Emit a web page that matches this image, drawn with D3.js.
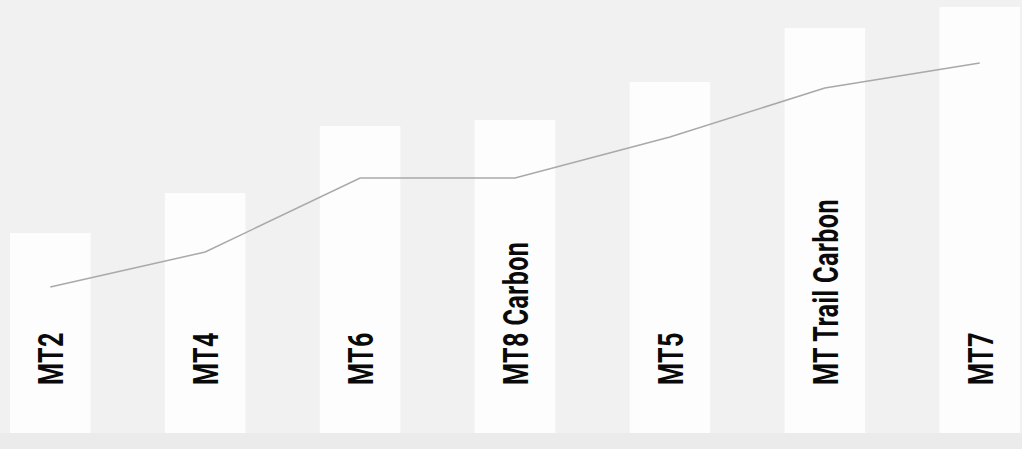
<!DOCTYPE html>
<html>
<head>
<meta charset="utf-8">
<script src="https://cdn.jsdelivr.net/npm/d3@7"></script>
<style>
  html, body { margin: 0; padding: 0; background: #f1f1f1; }
  svg { display: block; }
</style>
</head>
<body>
<div id="chart"></div>
<script>
// Models, in display order
const models = ["MT2", "MT4", "MT6", "MT8 Carbon", "MT5", "MT Trail Carbon", "MT7"];
// Bar heights (arbitrary units)
const barValues = [200, 240, 307, 313, 351, 405, 426];
// Line values on the same scale
const lineValues = [146, 181, 255, 255, 296, 345, 370];

const width = 1022, height = 449;
const margin = { top: 3, right: 2, bottom: 16, left: 10 };

const svg = d3.select("#chart").append("svg")
    .attr("width", width)
    .attr("height", height);

svg.append("rect")
    .attr("width", width)
    .attr("height", height)
    .attr("fill", "#f1f1f1");

// slightly darker strip under the bars
svg.append("rect")
    .attr("y", height - margin.bottom)
    .attr("width", width)
    .attr("height", margin.bottom)
    .attr("fill", "#ebebeb");

const x = d3.scaleBand()
    .domain(models)
    .range([margin.left, width - margin.right])
    .paddingInner(0.48)
    .paddingOuter(0);

const y = d3.scaleLinear()
    .domain([0, 430])
    .range([height - margin.bottom, margin.top]);

// bars
svg.append("g").selectAll("rect")
    .data(models)
    .join("rect")
    .attr("x", d => x(d))
    .attr("y", (d, i) => y(barValues[i]))
    .attr("width", x.bandwidth())
    .attr("height", (d, i) => y(0) - y(barValues[i]))
    .attr("fill", "#fdfdfd");

// line through bar centres
const line = d3.line()
    .x((d, i) => x(models[i]) + x.bandwidth() / 2)
    .y(d => y(d));

svg.append("path")
    .datum(lineValues)
    .attr("d", line)
    .attr("fill", "none")
    .attr("stroke", "#a9a9a9")
    .attr("stroke-width", 1.5);

// rotated labels, condensed look via horizontal squeeze
const labelBase = 385;
svg.append("g").selectAll("text")
    .data(models)
    .join("text")
    .attr("transform", d => `translate(${x(d) + x.bandwidth() / 2},${labelBase}) rotate(-90) scale(0.7,1)`)
    .attr("dy", "0.36em")
    .attr("text-anchor", "start")
    .style("font-family", "Roboto, 'Liberation Sans', sans-serif")
    .style("font-weight", "bold")
    .style("font-size", "36px")
    .style("letter-spacing", "0.5px")
    .style("fill", "#0a0a0a")
    .text(d => d);
</script>
</body>
</html>
